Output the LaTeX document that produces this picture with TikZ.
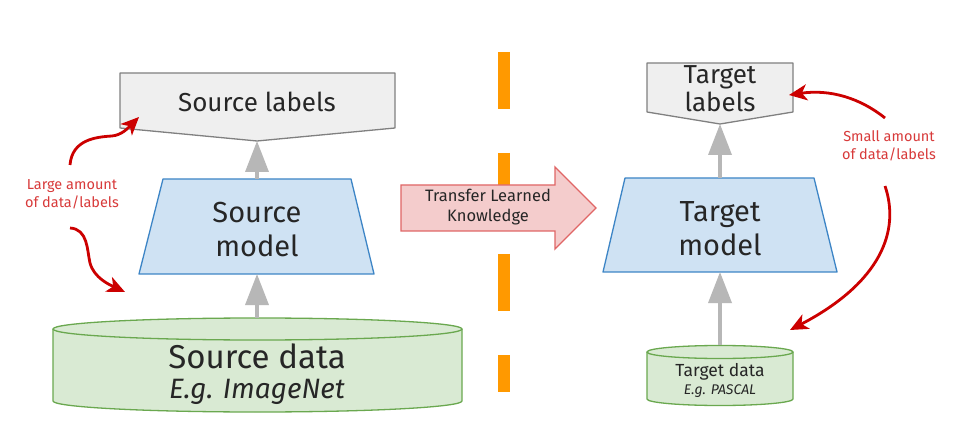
\documentclass[tikz,border=0pt]{standalone}
\usepackage{fontspec}
\setmainfont{Fira Sans}
\usetikzlibrary{arrows.meta}
\definecolor{boxgray}{HTML}{EFEFEF}
\definecolor{boxgraybd}{HTML}{808080}
\definecolor{modelblue}{HTML}{CFE2F3}
\definecolor{modelbluebd}{HTML}{3D85C6}
\definecolor{datagreen}{HTML}{D9EAD3}
\definecolor{datagreenbd}{HTML}{6AA84F}
\definecolor{arrowgray}{HTML}{B7B7B7}
\definecolor{redline}{HTML}{CC0000}
\definecolor{redtext}{HTML}{D83A3A}
\definecolor{dashorange}{HTML}{FF9900}
\definecolor{pinkfill}{HTML}{F4CCCC}
\definecolor{pinkbd}{HTML}{E06666}
\tikzset{
  labelshape/.style={fill=boxgray,draw=boxgraybd,line width=1.3pt,line join=round},
  modelshape/.style={fill=modelblue,draw=modelbluebd,line width=1.3pt,line join=round},
  datashape/.style={fill=datagreen,draw=datagreenbd,line width=1.3pt},
  grayarrow/.style={draw=arrowgray,line width=3.5pt,-{Triangle[width=23pt,length=31pt]}},
  redarrow/.style={draw=redline,line width=2.8pt,-{Stealth[width=16pt,length=18pt,inset=5pt]}},
  redtxt/.style={text=redtext,font=\fontsize{14.5}{18}\selectfont,align=center,inner sep=0pt},
  bigtxt/.style={text=black!85,align=center,inner sep=0pt},
}
\begin{document}
\begin{tikzpicture}[x=1pt,y=-1pt]
\useasboundingbox[fill=white] (0,0) rectangle (957,443);

% orange dashed separator
\draw[dashorange,line width=12pt,dash pattern=on 57pt off 44pt] (504,52) -- (504,392);

% ---------- source side ----------
\draw[labelshape] (120,73) -- (395,73) -- (395,128) -- (257,141) -- (120,128) -- cycle;
\node[bigtxt,font=\fontsize{26}{30}\selectfont] (srclab) at (257,102) {Source labels};
\coordinate (srclabbot) at (257,141);

\draw[modelshape] (163,179) -- (351,179) -- (374,274) -- (139,274) -- cycle;
\node[bigtxt,font=\fontsize{29}{34}\selectfont] (srcmodel) at (257,230) {Source\\model};
\coordinate (srcmodeltop) at (257,179);
\coordinate (srcmodelbot) at (257,274);

\draw[datashape] (53,329) -- (53,401) arc[start angle=180,end angle=360,x radius=204.5pt,y radius=11pt] -- (462,329);
\draw[datashape] (257.5,329) ellipse[x radius=204.5pt,y radius=11pt];
\node[bigtxt,font=\fontsize{33}{38}\selectfont] (srcdata) at (257,356) {Source data};
\node[bigtxt,font=\fontsize{28}{32}\selectfont\itshape] (srcex) at (257,392) {E.g. ImageNet};
\coordinate (srcdatatop) at (257,318);

\draw[grayarrow] (srcmodeltop) -- (srclabbot);
\draw[grayarrow] (srcdatatop) -- (srcmodelbot);

\node[redtxt] (largetxt) at (72,194) {Large amount\\of data/labels};
\coordinate (lu0) at (70,165);
\coordinate (lu1) at (139,117);
\coordinate (ll0) at (70,228);
\coordinate (ll1) at (125,292);
\draw[redarrow] (lu0) .. controls (72,140) and (95,137) .. (112,136) .. controls (122,135) and (128,128) .. (lu1);
\draw[redarrow] (ll0) .. controls (88,229) and (87,250) .. (90,263) .. controls (94,278) and (110,285) .. (ll1);

% ---------- transfer arrow ----------
\draw[fill=pinkfill,draw=pinkbd,line width=1.3pt,line join=miter]
  (401,185) -- (555,185) -- (555,167) -- (596,208) -- (555,249) -- (555,231) -- (401,231) -- cycle;
\node[bigtxt,font=\fontsize{16.5}{20}\selectfont] (transfer) at (488,207) {Transfer Learned\\Knowledge};

% ---------- target side ----------
\draw[labelshape] (647,63) -- (793,63) -- (793,112) -- (720,124) -- (647,112) -- cycle;
\node[bigtxt,font=\fontsize{26}{28}\selectfont] (tgtlab) at (720,89) {Target\\labels};
\coordinate (tgtlabbot) at (720,124);

\draw[modelshape] (625,178) -- (814,178) -- (837,272) -- (603,272) -- cycle;
\node[bigtxt,font=\fontsize{29}{34}\selectfont] (tgtmodel) at (720,229) {Target\\model};
\coordinate (tgtmodeltop) at (720,178);
\coordinate (tgtmodelbot) at (720,272);

\draw[datashape] (647,352) -- (647,399) arc[start angle=180,end angle=360,x radius=73pt,y radius=6.5pt] -- (793,352);
\draw[datashape] (720,352) ellipse[x radius=73pt,y radius=6.5pt];
\node[bigtxt,font=\fontsize{17.5}{20}\selectfont] (tgtdata) at (720,372) {Target data};
\node[bigtxt,font=\fontsize{14}{16}\selectfont\itshape] (tgtex) at (720,391) {E.g. PASCAL};
\coordinate (tgtdatatop) at (720,345);

\draw[grayarrow] (tgtmodeltop) -- (tgtlabbot);
\draw[grayarrow] (tgtdatatop) -- (tgtmodelbot);

\node[redtxt] (smalltxt) at (889,146) {Small amount\\of data/labels};
\coordinate (ru0) at (885,118);
\coordinate (ru1) at (789,95);
\coordinate (rl0) at (885,186);
\coordinate (rl1) at (790,330);
\draw[redarrow] (ru0) .. controls (860,98) and (830,89) .. (ru1);
\draw[redarrow] (rl0) .. controls (900,230) and (882,282) .. (rl1);
\end{tikzpicture}
\end{document}
